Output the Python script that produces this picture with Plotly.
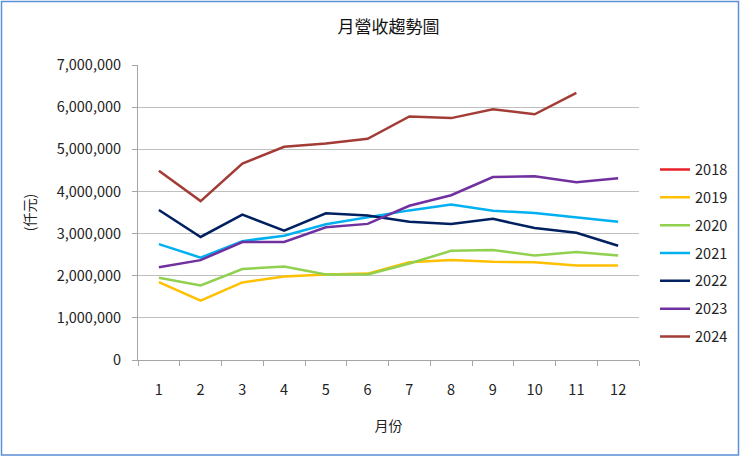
import plotly.graph_objects as go

months = ["1", "2", "3", "4", "5", "6", "7", "8", "9", "10", "11", "12"]
years = ["2018", "2019", "2020", "2021", "2022", "2023", "2024"]
colors = ["#e8202a", "#ffc000", "#92d050", "#00b0f0", "#002060", "#7030a0", "#a33c36"]

v2018 = [None] * 12
v2019 = [1850000, 1410000, 1840000, 1980000, 2030000, 2050000, 2320000, 2370000, 2330000, 2320000, 2240000, 2240000]
v2020 = [1950000, 1770000, 2160000, 2220000, 2030000, 2030000, 2290000, 2590000, 2610000, 2480000, 2560000, 2480000]
v2021 = [2750000, 2430000, 2820000, 2950000, 3220000, 3390000, 3550000, 3690000, 3540000, 3490000, 3390000, 3280000]
v2022 = [3560000, 2920000, 3450000, 3070000, 3480000, 3430000, 3280000, 3230000, 3350000, 3130000, 3020000, 2710000]
v2023 = [2200000, 2370000, 2800000, 2800000, 3150000, 3230000, 3660000, 3910000, 4340000, 4360000, 4220000, 4310000]
v2024 = [4490000, 3770000, 4660000, 5060000, 5140000, 5250000, 5780000, 5740000, 5950000, 5830000, 6340000, None]

series = [v2018, v2019, v2020, v2021, v2022, v2023, v2024]

FONT = "Noto Sans CJK TC"

fig = go.Figure()
for name, vals, col in zip(years, series, colors):
    fig.add_trace(go.Scatter(
        x=months, y=vals, name=name, mode="lines",
        line=dict(color=col, width=2.5),
        legendgroup=name,
    ))

fig.update_layout(
    width=740, height=457,
    margin=dict(l=138, r=101, t=65, b=97, autoexpand=False),
    paper_bgcolor="white", plot_bgcolor="white",
    font=dict(family=FONT, size=14, color="#222"),
    title=dict(text="月營收趨勢圖", x=0.5, xref="paper", y=0.94, yref="container",
               xanchor="center", yanchor="middle",
               font=dict(size=17, color="#111", family=FONT)),
    showlegend=True,
    legend=dict(x=1.032, y=0.70, xanchor="left", yanchor="top",
                font=dict(size=14.5, family=FONT, color="#222"),
                tracegroupgap=6, itemwidth=30, bgcolor="rgba(0,0,0,0)"),
    xaxis=dict(type="category", range=[-0.5, 11.5], showgrid=False,
               showline=True, linecolor="#a6a6a6", linewidth=1,
               ticks="outside", tickson="boundaries", ticklen=5, tickcolor="#a6a6a6",
               ticklabelstandoff=17,
               tickfont=dict(size=14.5, family=FONT), fixedrange=True,
               title=dict(text="月份", font=dict(size=14, family=FONT), standoff=22)),
    yaxis=dict(range=[0, 7000000], dtick=1000000, tickformat=",",
               showgrid=True, gridcolor="#bfbfbf", gridwidth=1,
               showline=True, linecolor="#a6a6a6", linewidth=1,
               ticks="outside", ticklen=5, tickcolor="#a6a6a6",
               ticklabelstandoff=8,
               tickfont=dict(size=14.5, family=FONT), zeroline=False,
               title=dict(text="(仟元)", font=dict(size=14, family=FONT), standoff=17)),
)

fig.add_shape(type="rect", xref="paper", yref="paper",
              x0=(1.5 - 138) / 501, x1=(738.5 - 138) / 501,
              y0=(360 - 455) / 295, y1=(360 - 1.5) / 295,
              line=dict(color="#5b8fd6", width=1.5), fillcolor="rgba(0,0,0,0)",
              layer="below")

fig.write_html("out.html", config={"displayModeBar": False},
               post_script="document.body.style.margin='0';document.body.style.padding='0';")
